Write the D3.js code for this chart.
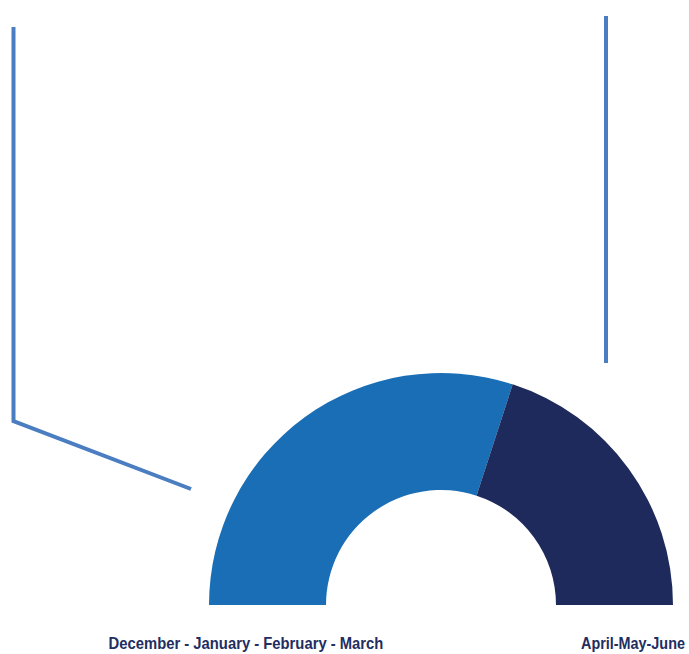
<!DOCTYPE html>
<html>
<head>
<meta charset="utf-8">
<script src="https://cdn.jsdelivr.net/npm/d3@7"></script>
<style>
  body { margin: 0; background: #fff; }
  svg { display: block; }
  .label { font-family: 'Liberation Sans Narrow', 'Arial Narrow', 'Liberation Sans', sans-serif; font-weight: bold; fill: #222d61; }
</style>
</head>
<body>
<svg id="container"></svg>
<script>
const seasons = ['December - January - February - March', 'April-May-June'];
const shares = [60, 40];
const colors = ['#1a6eb5', '#1e2a5b'];

// leader lines drawn in the original layout
const leaderLeft = [[13.5, 27], [13.5, 421], [191, 489]];
const leaderRight = [[606, 16], [606, 363]];

function drawChart() {
  const width = 689;
  const height = 654;
  const cx = 441;
  const cy = 605;
  const outerR = 232;
  const innerR = 115;

  const svg = d3.select('#container').attr('width', width).attr('height', height);

  const pie = d3
    .pie()
    .sort(null)
    .startAngle(-Math.PI / 2)
    .endAngle(Math.PI / 2);

  const arc = d3.arc().innerRadius(innerR).outerRadius(outerR);

  svg
    .append('g')
    .attr('transform', 'translate(' + cx + ',' + cy + ')')
    .selectAll('path')
    .data(pie(shares))
    .enter()
    .append('path')
    .attr('d', arc)
    .attr('fill', (d, i) => colors[i]);

  const line = d3.line();
  [leaderLeft, leaderRight].forEach((pts) => {
    svg
      .append('path')
      .attr('d', line(pts))
      .attr('fill', 'none')
      .attr('stroke', '#4a7ec0')
      .attr('stroke-width', 4);
  });

  // season labels under the gauge, squeezed horizontally like a narrow face
  const labelPos = [
    { x: 246, y: 649, w: 275 },
    { x: 633, y: 649, w: 104 },
  ];
  svg
    .selectAll('.label')
    .data(seasons)
    .enter()
    .append('text')
    .attr('class', 'label')
    .attr('text-anchor', 'middle')
    .style('font-size', '16px')
    .text((d) => d)
    .each(function (d, i) {
      const w = this.getComputedTextLength();
      const sx = Math.min(1, labelPos[i].w / w);
      d3.select(this).attr(
        'transform',
        'translate(' + labelPos[i].x + ',' + labelPos[i].y + ') scale(' + sx + ',1)'
      );
    });
}

drawChart();
</script>
</body>
</html>
